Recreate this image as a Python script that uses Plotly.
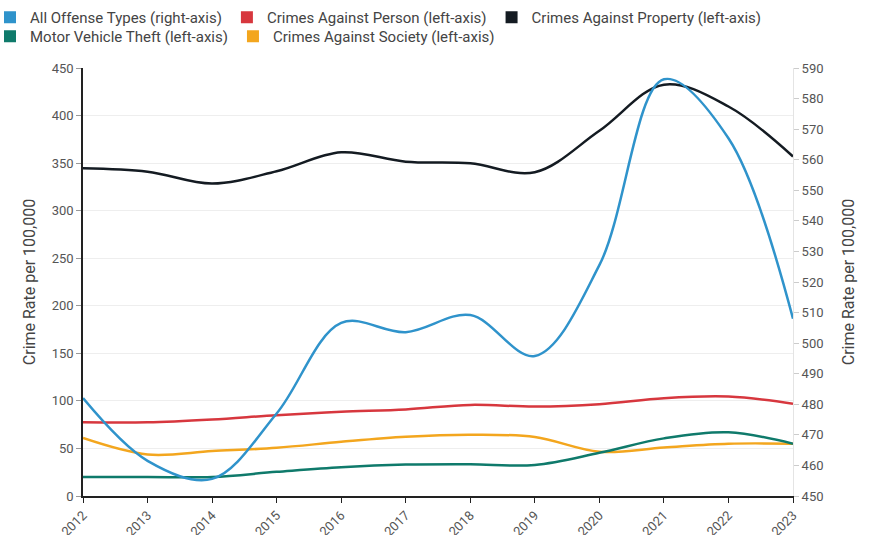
import plotly.graph_objects as go

years = [2012, 2013, 2014, 2015, 2016, 2017, 2018, 2019, 2020, 2021, 2022, 2023]

all_offense = [482, 461.5, 455.6, 477, 506.6, 503.6, 509.2, 495.8, 525.5, 586.3, 567, 508]
against_person = [77.5, 77.5, 80.5, 85, 88.5, 91, 95.8, 94, 96.5, 102.8, 104.5, 97]
against_property = [344.6, 341, 328.5, 341.5, 361.4, 351.5, 349.8, 340.4, 384, 432.5, 409.5, 357]
motor_vehicle = [20, 20, 20, 25.4, 30.3, 33, 33.4, 32.7, 45.4, 60.6, 67, 55]
against_society = [61, 43.7, 47.2, 50.7, 57, 62.3, 64.4, 62, 46.5, 51, 55, 55]

names = [
    "All Offense Types (right-axis)",
    "Crimes Against Person (left-axis)",
    "Crimes Against Property (left-axis)",
    "Motor Vehicle Theft (left-axis)",
    "Crimes Against Society (left-axis)",
]
colors = ["#2f93cb", "#d7373e", "#141b22", "#0f7a6b", "#f3a61e"]
series = [all_offense, against_person, against_property, motor_vehicle, against_society]
axes = ["y2", "y", "y", "y", "y"]
legend_row = ["legend", "legend", "legend", "legend2", "legend2"]

fig = go.Figure()

# draw order: left-axis lines first, then right-axis line on top
for i in [2, 1, 4, 3, 0]:
    fig.add_trace(go.Scatter(
        x=years, y=series[i], name=names[i], yaxis=axes[i],
        mode="lines", line=dict(color=colors[i], width=2.5, shape="spline", smoothing=1.0),
        showlegend=False, hoverinfo="skip",
    ))

for i in range(5):
    fig.add_trace(go.Scatter(
        x=[None], y=[None], name=names[i], mode="markers",
        marker=dict(symbol="square", size=12, color=colors[i]),
        showlegend=True, legend=legend_row[i],
    ))

font_family = "Roboto, 'Open Sans', sans-serif"
legend_common = dict(
    orientation="h", xanchor="left", yanchor="middle",
    font=dict(size=15, color="#444", family=font_family), itemwidth=30,
    bgcolor="rgba(0,0,0,0)", borderwidth=0,
)

fig.update_layout(
    width=869, height=535,
    margin=dict(l=83, r=76, t=68, b=39, autoexpand=False),
    paper_bgcolor="white", plot_bgcolor="white",
    font=dict(family=font_family, size=13, color="#555"),
    legend=dict(x=-0.131, y=1.118, **legend_common),
    legend2=dict(x=-0.131, y=1.0736, **legend_common),
    xaxis=dict(
        range=[2012, 2023], tickmode="array", tickvals=years,
        ticktext=[str(y) for y in years], tickangle=-45,
        showline=True, linecolor="#222", linewidth=1.5,
        ticks="outside", ticklen=5, tickcolor="#222",
        showgrid=False, zeroline=False, automargin=False,
        tickfont=dict(size=13, color="#555"),
    ),
    yaxis=dict(
        range=[0, 450], dtick=50, tick0=0,
        showline=True, linecolor="#222", linewidth=1.5,
        ticks="outside", ticklen=5, tickcolor="#999",
        showgrid=True, gridcolor="#eeeeee", gridwidth=1, zeroline=False,
        automargin=False,
        title=dict(text="Crime Rate per 100,000", font=dict(size=16, color="#444"), standoff=12),
        tickfont=dict(size=13, color="#555"),
    ),
    yaxis2=dict(
        range=[450, 590], dtick=10, tick0=450, overlaying="y", side="right",
        showline=True, linecolor="#e4e4e4", linewidth=1,
        ticks="outside", ticklen=5, tickcolor="#ccc",
        showgrid=False, zeroline=False, automargin=False,
        title=dict(text="Crime Rate per 100,000", font=dict(size=16, color="#444"), standoff=20),
        tickfont=dict(size=13, color="#555"),
    ),
)

fig.write_html(
    "out.html",
    config={"displayModeBar": False},
    post_script="document.body.style.margin='0';document.body.style.overflow='hidden';",
)
